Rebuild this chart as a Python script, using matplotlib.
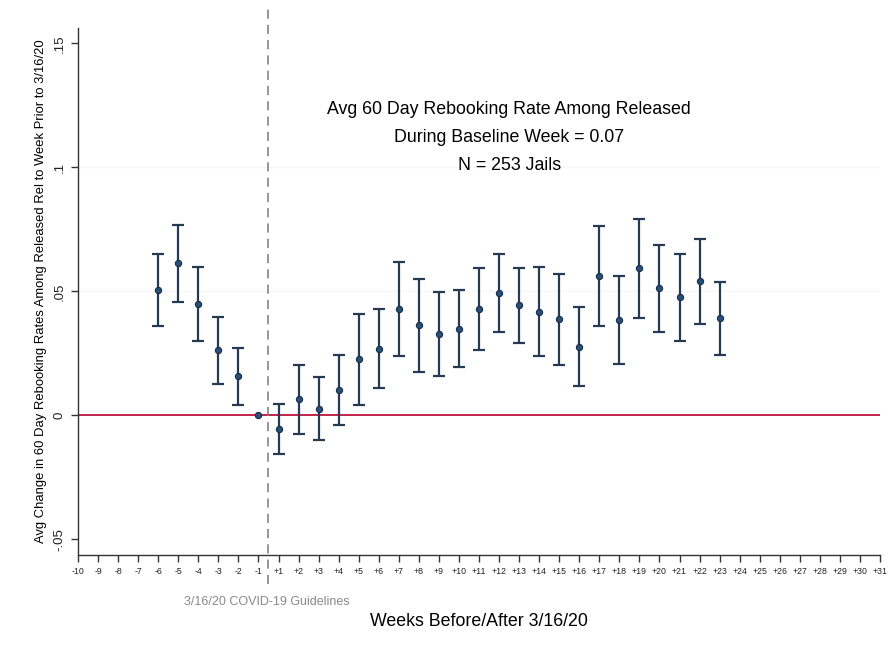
import numpy as np
import matplotlib
matplotlib.use("Agg")
import matplotlib.pyplot as plt

plt.rcParams['font.family'] = ['Liberation Sans', 'DejaVu Sans']

# event-study estimates
weeks = [-6, -5, -4, -3, -2, -1, 1, 2, 3, 4, 5, 6, 7, 8, 9, 10, 11, 12,
         13, 14, 15, 16, 17, 18, 19, 20, 21, 22, 23]
coef = [0.0505, 0.0613, 0.0448, 0.0262, 0.0157, 0.0, -0.0055, 0.0065,
        0.0027, 0.0102, 0.0226, 0.0269, 0.0429, 0.0363, 0.0327, 0.0348,
        0.0430, 0.0492, 0.0444, 0.0418, 0.0387, 0.0275, 0.0563, 0.0385,
        0.0593, 0.0512, 0.0476, 0.0540, 0.0392]
lower = [0.0361, 0.0457, 0.0298, 0.0126, 0.0040, 0.0, -0.0155, -0.0074,
         -0.0101, -0.0038, 0.0043, 0.0111, 0.0238, 0.0175, 0.0157, 0.0194,
         0.0265, 0.0335, 0.0292, 0.0238, 0.0204, 0.0117, 0.0361, 0.0207,
         0.0391, 0.0335, 0.0300, 0.0367, 0.0244]
upper = [0.0650, 0.0767, 0.0599, 0.0395, 0.0273, 0.0, 0.0046, 0.0203,
         0.0154, 0.0244, 0.0407, 0.0429, 0.0618, 0.0550, 0.0497, 0.0504,
         0.0593, 0.0649, 0.0593, 0.0599, 0.0569, 0.0435, 0.0763, 0.0563,
         0.0792, 0.0688, 0.0652, 0.0711, 0.0539]

tick_weeks = list(range(-10, 0)) + list(range(1, 32))
ytick_vals = [-0.05, 0, 0.05, 0.1, 0.15]
ytick_labels = ['-.05', '0', '.05', '.1', '.15']

def pos(w):
    # week 0 is not shown, so +1 sits right after -1
    return w if w < 0 else w - 1

x = np.array([pos(w) for w in weeks])
coef = np.array(coef)
lower = np.array(lower)
upper = np.array(upper)

fig = plt.figure(figsize=(8.96, 6.56), dpi=100)
ax = fig.add_axes([78/896, 1 - 555/656, 802/896, 527/656])

ax.axhline(0, color='#c4234b', lw=1.4, zorder=1)
ax.axvline(-0.5, ymin=-0.055, ymax=1.045, color='#7a7a7a', lw=1.1,
           ls=(0, (6, 4)), clip_on=False, zorder=1)

has_ci = upper > lower
ax.errorbar(x[has_ci], coef[has_ci],
            yerr=[coef[has_ci] - lower[has_ci], upper[has_ci] - coef[has_ci]],
            fmt='none', ecolor='#263a52', elinewidth=1.6, capsize=4,
            capthick=1.6, zorder=2)
ax.plot(x, coef, 'o', color='#24507a', mec='#1a2e44', mew=0.8, ms=4.5, zorder=3)

ax.set_xlim(-10, 30)
ax.set_ylim(-0.0563, 0.1562)
ax.set_xticks([pos(w) for w in tick_weeks])
ax.set_xticklabels([str(w) if w < 0 else '+%d' % w for w in tick_weeks], fontsize=6.3)
ax.set_yticks(ytick_vals)
ax.set_yticklabels(ytick_labels, fontsize=9.5, rotation=90, va='center')
for v in [0.05, 0.1]:
    ax.axhline(v, color='#f6f6f6', lw=1.0, zorder=0)

for s in ['top', 'right']:
    ax.spines[s].set_visible(False)
for s in ['left', 'bottom']:
    ax.spines[s].set_color('#333333')
    ax.spines[s].set_linewidth(1.0)
ax.tick_params(axis='both', colors='#333333', length=5, width=1.0)
ax.tick_params(axis='x', pad=4, labelcolor='#222222')
ax.tick_params(axis='y', pad=4, labelcolor='#222222')

ax.set_xlabel('Weeks Before/After 3/16/20', fontsize=12.8, labelpad=26)
ax.set_ylabel('Avg Change in 60 Day Rebooking Rates Among Released Rel to Week Prior to 3/16/20',
              fontsize=9.4)
ax.yaxis.set_label_coords(-0.039, 0.5)

fig.text(267/896, 1 - 602/656, '3/16/20 COVID-19 Guidelines', fontsize=9,
         color='#8a8a8a', ha='center', va='center')

ax.text(11.5, 0.1235, 'Avg 60 Day Rebooking Rate Among Released', fontsize=12.8,
        ha='center', va='center')
ax.text(11.5, 0.1119, 'During Baseline Week = 0.07', fontsize=12.8,
        ha='center', va='center')
ax.text(11.5, 0.1006, 'N = 253 Jails', fontsize=12.8, ha='center', va='center')

fig.savefig('out.png', dpi=100, facecolor='white')
